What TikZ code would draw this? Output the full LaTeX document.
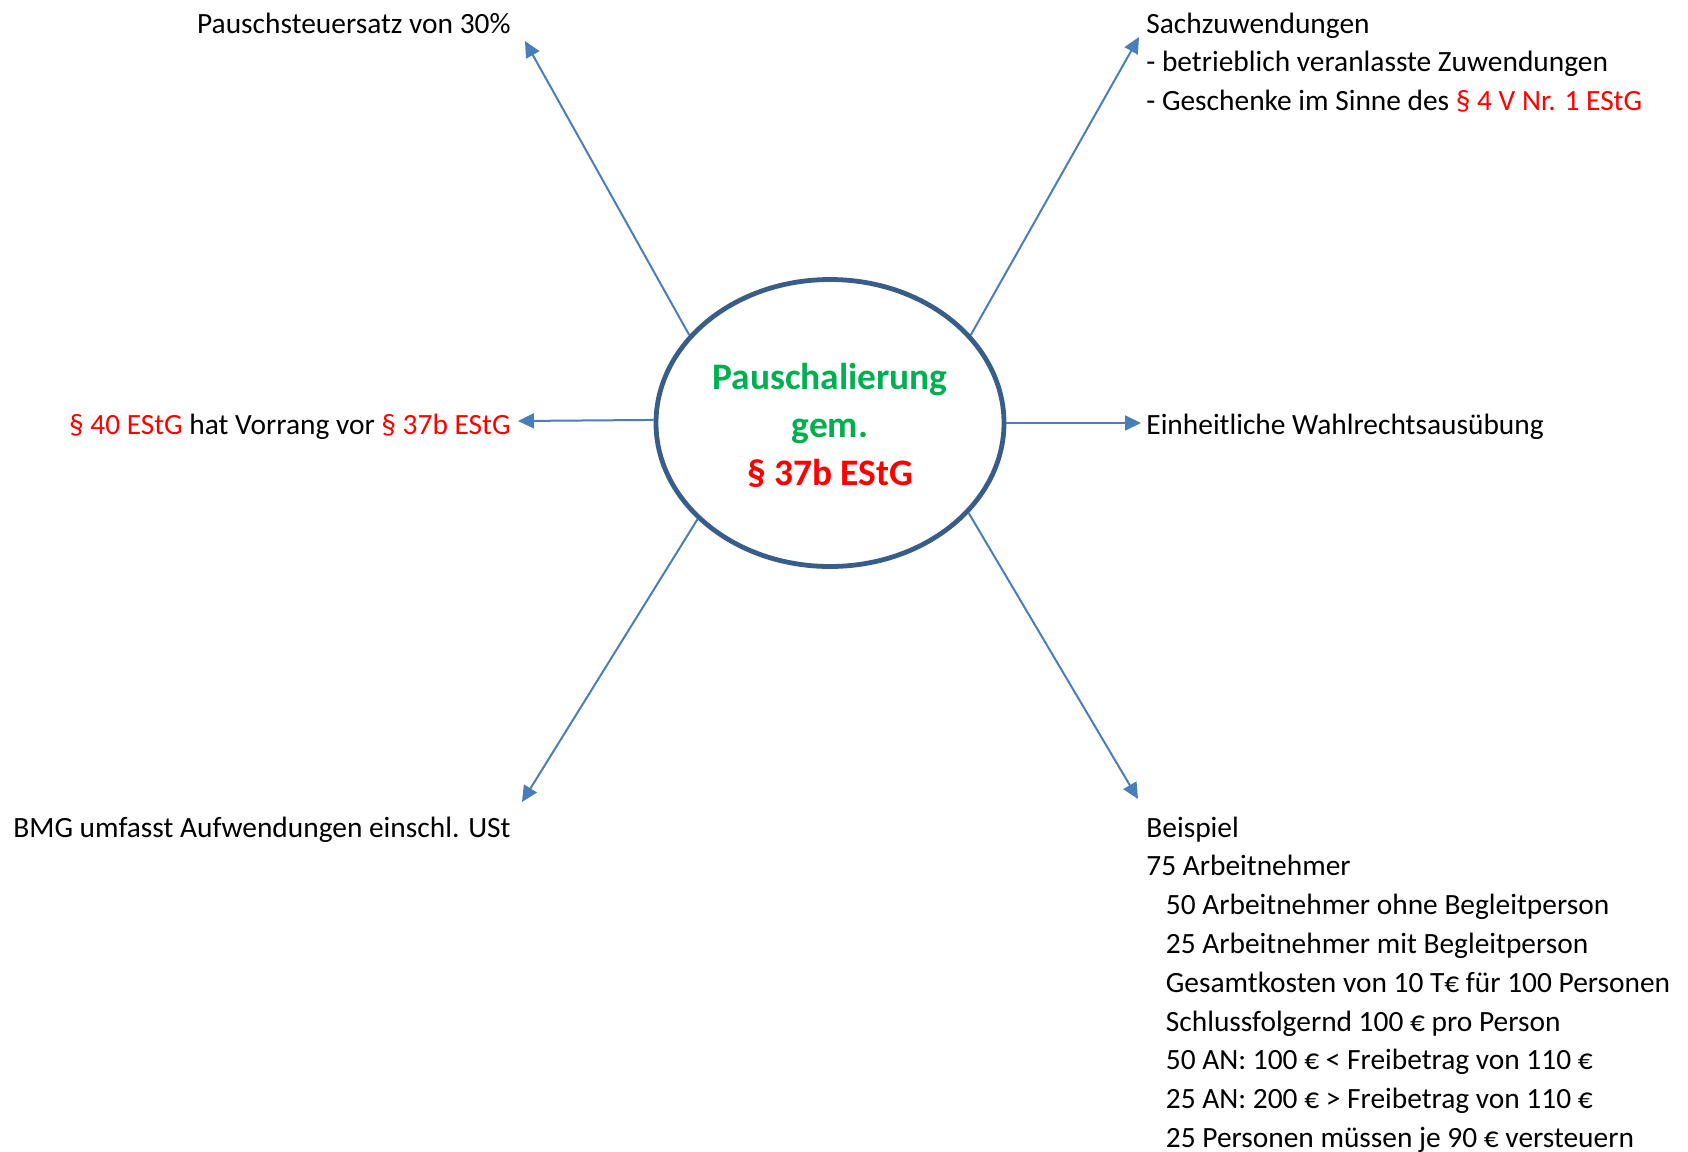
\documentclass[tikz,border=0pt]{standalone}
\usepackage{fontspec}
\setmainfont{Carlito}
\usepackage{tikz}
\usetikzlibrary{arrows.meta,positioning,shapes.geometric}
\definecolor{gruen}{RGB}{0,176,80}
\definecolor{rot}{RGB}{255,0,0}
\definecolor{pfeilblau}{RGB}{74,126,187}
\definecolor{randblau}{RGB}{56,93,138}
\newcommand{\para}[1]{\textcolor{rot}{#1}}
\newcommand{\ein}{\hspace*{9.75pt}}
\begin{document}
\begin{tikzpicture}[
  x=0.5pt, y=-0.5pt,
  mitte/.style={ellipse, draw=randblau, line width=2.4pt, fill=white, minimum width=174pt, minimum height=143.5pt, inner sep=0pt, align=center, font=\fontsize{18.7}{24}\selectfont\bfseries},
  txt/.style={inner sep=0pt, align=left, font=\fontsize{14.7}{19.4}\selectfont},
  pfeil/.style={draw=pfeilblau, line width=1pt, -{Triangle[length=8pt, width=7.5pt]}}
]
\useasboundingbox (0,0) rectangle (1688,1152);
\node[mitte] (pausch) at (830,423) {};
\node[align=center, inner sep=0pt, font=\fontsize{18.7}{24}\selectfont\bfseries] (titel) at (830,425) {\textcolor{gruen}{Pauschalierung}\\ \textcolor{gruen}{gem.}\\ \textcolor{rot}{§ 37b EStG}};
\node[txt, anchor=base east] (satz) at (511,33) {Pauschsteuersatz von 30\%};
\node[txt, anchor=base west] (sach) at (1146,110.6) {Sachzuwendungen\\ - betrieblich veranlasste Zuwendungen\\ - Geschenke im Sinne des \para{§ 4 V Nr. 1 EStG}};
\node[txt, anchor=base east] (vorrang) at (511,434) {\para{§ 40 EStG} hat Vorrang vor \para{§ 37b EStG}};
\node[txt, anchor=base west] (wahl) at (1146,434) {Einheitliche Wahlrechtsausübung};
\node[txt, anchor=base east] (bmg) at (511,837) {BMG umfasst Aufwendungen einschl. USt};
\node[txt, anchor=base west] (bsp) at (1146,1147.4) {Beispiel\\ 75 Arbeitnehmer\\ \ein 50 Arbeitnehmer ohne Begleitperson\\ \ein 25 Arbeitnehmer mit Begleitperson\\ \ein Gesamtkosten von 10 T€ für 100 Personen\\ \ein Schlussfolgernd 100 € pro Person\\ \ein 50 AN: 100 € < Freibetrag von 110 €\\ \ein 25 AN: 200 € > Freibetrag von 110 €\\ \ein 25 Personen müssen je 90 € versteuern};

\coordinate (zSatz) at (525,41);
\coordinate (zSach) at (1139,37);
\coordinate (zVorrang) at (518,421);
\coordinate (zWahl) at (1141,423);
\coordinate (zBmg) at (522,802);
\coordinate (zBsp) at (1138,799);

\foreach \w/\z in {148/zSatz, 32/zSach, 179.4/zVorrang, 0/zWahl, 216/zBmg, 327/zBsp}
  \draw[pfeil] (pausch.\w) -- (\z);
\end{tikzpicture}
\end{document}
